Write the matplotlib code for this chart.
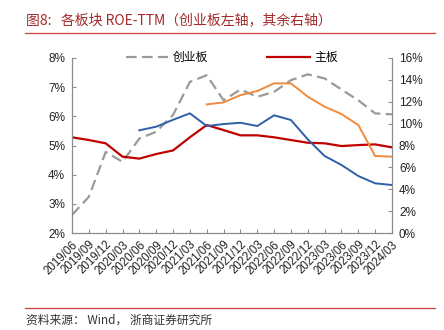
import matplotlib.pyplot as plt
import numpy as np

plt.rcParams['font.family'] = ['Liberation Sans', 'Noto Sans CJK SC', 'DejaVu Sans']

# quarters on the x axis
quarters = ['2019/06', '2019/09', '2019/12', '2020/03', '2020/06', '2020/09',
            '2020/12', '2021/03', '2021/06', '2021/09', '2021/12', '2022/03',
            '2022/06', '2022/09', '2022/12', '2023/03', '2023/06', '2023/09',
            '2023/12', '2024/03']

# ROE-TTM in %
chinext = [2.62, 3.24, 4.78, 4.44, 5.24, 5.47, 6.05, 7.18, 7.41, 6.55,
           6.92, 6.67, 6.84, 7.24, 7.44, 7.30, 6.92, 6.55, 6.10, 6.07]   # left axis
main_board = [8.75, 8.50, 8.20, 6.98, 6.80, 7.22, 7.55, 8.75, 9.87, 9.41,
              8.93, 8.93, 8.75, 8.50, 8.25, 8.20, 7.95, 8.04, 8.10, 7.83]  # right axis
blue_board = [None, None, None, None, 9.39, 9.72, 10.35, 10.94, 9.78, 9.96,
              10.08, 9.78, 10.76, 10.33, 8.56, 7.04, 6.22, 5.21, 4.54, 4.39]
orange_board = [None] * 8 + [11.76, 11.94, 12.60, 12.98, 13.68, 13.68,
                             12.46, 11.55, 10.88, 9.87, 7.04, 6.98]

x = np.arange(len(quarters))


def as_array(vals):
    return np.array([np.nan if v is None else v for v in vals], dtype=float)


fig = plt.figure(figsize=(4.44, 3.30), dpi=100)
ax = fig.add_axes([72 / 444, 1 - 233 / 330, 320 / 444, 175 / 330])
ax2 = ax.twinx()

l1, = ax.plot(x, chinext, color='#9a9a9a', lw=1.6, dashes=(4.8, 2.4), label='创业板')
l2, = ax2.plot(x, main_board, color='#c00000', lw=1.6, label='主板')
ax2.plot(x, as_array(blue_board), color='#2f5fa6', lw=1.4)
ax2.plot(x, as_array(orange_board), color='#f08a3c', lw=1.4)

ax.set_xlim(0, len(quarters) - 1)
ax.set_ylim(2, 8)
ax2.set_ylim(0, 16)
ax.set_yticks(np.arange(2, 9, 1))
ax.set_yticklabels([f'{v}%' for v in range(2, 9)])
ax2.set_yticks(np.arange(0, 17, 2))
ax2.set_yticklabels([f'{v}%' for v in range(0, 17, 2)])
ax.set_xticks(x)
ax.set_xticklabels(quarters, rotation=45, ha='right', rotation_mode='anchor')

for a in (ax, ax2):
    a.spines['top'].set_visible(False)
    for s in ('left', 'right', 'bottom'):
        a.spines[s].set_color('#8c8c8c')
        a.spines[s].set_linewidth(0.8)
    a.tick_params(direction='in', length=3, color='#8c8c8c', labelsize=8.5,
                  labelcolor='#222222', pad=5)
ax.tick_params(axis='x', labelsize=8.3, pad=4)

ax.legend(handles=[l1, l2], loc='center', bbox_to_anchor=(0.5, 1.0), ncol=2,
          frameon=False, fontsize=8.5, handlelength=3.6, columnspacing=5.0,
          handletextpad=0.4)

# title and source
fig.text(26 / 444, 1 - 20 / 330, '图8:   各板块 ROE-TTM（创业板左轴，其余右轴）',
         color='#a52a2a', fontsize=10, va='center', ha='left',
         family=['Noto Sans CJK SC', 'DejaVu Sans'])
fig.add_artist(plt.Line2D([25 / 444, 435 / 444], [1 - 33 / 330] * 2,
                          color='#d04040', lw=0.9))
fig.add_artist(plt.Line2D([25 / 444, 435 / 444], [1 - 308 / 330] * 2,
                          color='#d04040', lw=0.9))
fig.text(26 / 444, 1 - 320 / 330, '资料来源： Wind， 浙商证券研究所',
         color='#333333', fontsize=8.5, va='center', ha='left',
         family=['Noto Sans CJK SC', 'DejaVu Sans'])

fig.savefig('out.png', dpi=100)
